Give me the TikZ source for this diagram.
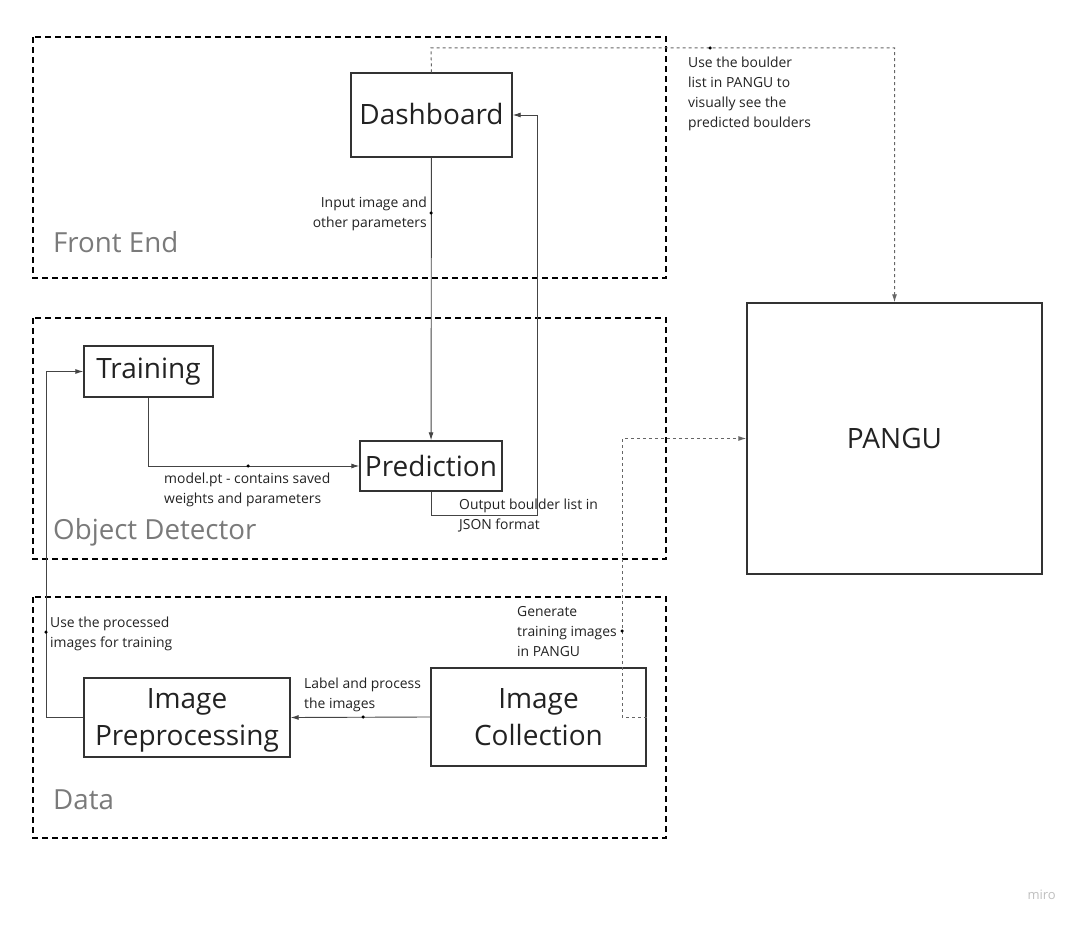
\documentclass[tikz,border=0pt]{standalone}
\usepackage{fontspec}
\setmainfont{Open Sans}
\usetikzlibrary{arrows.meta}
\definecolor{boxline}{HTML}{333333}
\definecolor{txt}{HTML}{222222}
\definecolor{grp}{HTML}{7A7A7A}
\definecolor{conn}{HTML}{444444}
\definecolor{dotc}{HTML}{666666}
\tikzset{
  x=1pt, y=-1pt,
  groupbox/.style={draw=black, line width=1.3pt, dash pattern=on 6pt off 4pt},
  blk/.style={draw=boxline, line width=1.4pt, text=txt, font=\fontsize{28}{33}\selectfont, align=center, inner sep=0pt},
  grplabel/.style={text=grp, font=\fontsize{27.7}{30}\selectfont, anchor=west, inner sep=0pt},
  lbl/.style={text=txt, font=\fontsize{13.9}{20}\selectfont, inner sep=0pt},
  conline/.style={draw=conn, line width=0.9pt, -{Latex[length=8pt,width=5pt]}},
  dotline/.style={draw=dotc, line width=1pt, dash pattern=on 3pt off 3pt, -{Latex[length=8pt,width=5pt]}},
  jdot/.style={circle, fill=black, inner sep=0pt, minimum size=3.5pt},
}
\begin{document}
\begin{tikzpicture}
\useasboundingbox (0,0) rectangle (1080,925);
% groups
\draw[groupbox] (33,37) rectangle (666,278);
\draw[groupbox] (33,318) rectangle (666,559);
\draw[groupbox] (33,597) rectangle (666,838);
\node[grplabel] (gfe) at (53,242) {Front End};
\node[grplabel] (god) at (53,532) {Object Detector};
\node[grplabel] (gda) at (53,800) {Data};
% blocks
\node[blk, minimum width=161pt, minimum height=84pt] (dash) at (431.5,115) {\raisebox{2pt}{Dashboard}};
\node[blk, minimum width=129pt, minimum height=51pt] (train) at (148.5,371.5) {Training};
\node[blk, minimum width=142pt, minimum height=50pt] (pred) at (431,466) {Prediction};
\node[blk, minimum width=206pt, minimum height=79pt] (prep) at (187,717.5) {Image\\[4pt]\raisebox{0pt}[\height][0pt]{Preprocessing}};
\node[blk, minimum width=215pt, minimum height=98pt] (coll) at (538.5,717) {Image\\[4pt]Collection};
\node[blk, minimum width=295pt, minimum height=271pt] (pangu) at (894.5,438.5) {PANGU};
% connectors
\coordinate (c1) at (431,213);
\draw[conline] (dash) -- (pred);
\node[jdot] at (c1) {};
\node[lbl, anchor=east, align=right] (l1) at (427,214) {Input image and\\other parameters};

\coordinate (c2) at (537,515);
\draw[conline] (pred.south) |- (c2) |- (dash.east);
\node[lbl, anchor=west, align=left] (l2) at (459,516) {Output boulder list in\\JSON format};

\coordinate (c3) at (248,466);
\draw[conline] (train.south) |- (pred.west);
\node[jdot] at (c3) {};
\node[lbl, anchor=west, align=left] (l3) at (164,490) {model.pt - contains saved\\weights and parameters};

\coordinate (c4) at (46,717.5);
\draw[conline] (prep.west) -- (c4) |- (train.west);
\node[jdot] at (46,632) {};
\node[lbl, anchor=west, align=left] (l4) at (50,634) {Use the processed\\images for training};

\draw[conline] (coll.west) -- (prep.east);
\node[jdot] at (363,717) {};
\node[lbl, anchor=west, align=left] (l5) at (304,695) {Label and process\\the images};

\coordinate (c6) at (622,717);
\draw[dotline] (coll.east) -- (c6) |- (pangu.west);
\node[jdot] at (622,631) {};
\node[lbl, anchor=west, align=left] (l6) at (517,632) {Generate\\training images\\in PANGU};

\coordinate (c7) at (431,48);
\draw[dotline] (dash.north) -- (c7) -| (pangu.north);
\node[jdot] at (710,48) {};
\node[lbl, anchor=west, align=left] (l7) at (688,94) {Use the boulder\\list in PANGU to\\visually see the\\predicted boulders};

\node[text=black!25, font=\fontsize{13}{15}\selectfont, anchor=east, inner sep=0pt] (miro) at (1056,895) {miro};
\end{tikzpicture}
\end{document}
